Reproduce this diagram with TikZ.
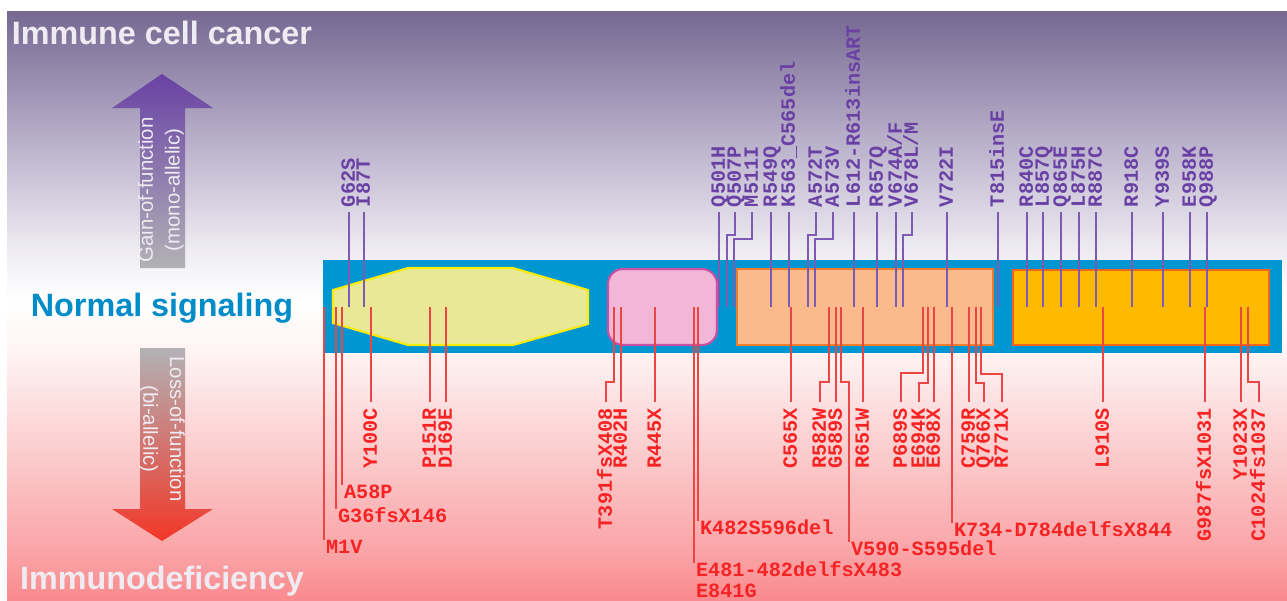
\documentclass[tikz,border=0pt]{standalone}
\usepackage{fontspec}
\setmainfont{Liberation Sans}
\setmonofont{Liberation Mono}
\usetikzlibrary{positioning}

\definecolor{bgtop}{RGB}{118,104,146}
\definecolor{bgA}{RGB}{190,181,206}
\definecolor{bgB}{RGB}{238,236,242}
\definecolor{bgC}{RGB}{255,244,244}
\definecolor{bgD}{RGB}{252,205,206}
\definecolor{bgE}{RGB}{250,165,168}
\definecolor{bgbot}{RGB}{250,138,142}
\definecolor{titlec}{RGB}{238,236,242}
\definecolor{barblue}{RGB}{0,150,210}
\definecolor{normalc}{RGB}{0,140,200}
\definecolor{gofc}{RGB}{105,65,165}
\definecolor{gofl}{RGB}{125,90,180}
\definecolor{lofc}{RGB}{245,35,35}
\definecolor{lofl}{RGB}{235,70,70}
\definecolor{arrgrey}{RGB}{178,178,182}
\definecolor{arrpurple}{RGB}{105,65,165}
\definecolor{arrred}{RGB}{242,55,40}
\definecolor{yelfill}{RGB}{233,232,150}
\definecolor{yeldraw}{RGB}{250,235,10}
\definecolor{pinkfill}{RGB}{242,182,214}
\definecolor{pinkdraw}{RGB}{200,80,165}
\definecolor{salfill}{RGB}{250,186,140}
\definecolor{saldraw}{RGB}{240,125,45}
\definecolor{goldfill}{RGB}{255,186,0}
\definecolor{golddraw}{RGB}{240,100,30}

\pgfdeclareverticalshading{bgshade}{100bp}{color(0bp)=(bgbot); color(25bp)=(bgbot);
  color(29.2bp)=(bgE); color(37.7bp)=(bgD); color(46.2bp)=(bgC); color(50.5bp)=(white);
  color(54.7bp)=(bgB); color(63.2bp)=(bgA); color(75bp)=(bgtop); color(100bp)=(bgtop)}

\begin{document}
\begin{tikzpicture}[x=0.02cm, y=-0.02cm,
    mut/.style={font=\ttfamily\bfseries\fontsize{11.5}{12}\selectfont,
                inner sep=0pt, text height=6.7pt, text depth=0pt},
    gof/.style={mut, text=gofc, rotate=90, anchor=west, outer sep=2.8pt},
    lof/.style={mut, text=lofc, rotate=90, anchor=east, outer sep=3.4pt},
    lofh/.style={mut, text=lofc, anchor=north west, inner sep=1pt},
    gofline/.style={draw=gofl, line width=0.85pt},
    lofline/.style={draw=lofl, line width=0.85pt},
    big/.style={font=\bfseries\fontsize{18.4}{20}\selectfont},
    arrtext/.style={font=\fontsize{11.6}{15.3}\selectfont, text=titlec, align=center},
    dom/.style={line width=1.2pt}]
  \useasboundingbox[fill=white] (0,0) rectangle (1287,600);
  \shade[shading=bgshade] (7,11) rectangle (1287,600);

  \node[big, text=titlec] (cancer) at (162,33) {Immune cell cancer};
  \node[big, text=normalc] (normal) at (162,308) {Normal signaling};
  \node[big, text=titlec] (immdef) at (162,581) {Immunodeficiency};

  \shade[top color=arrpurple, bottom color=arrgrey] (140,268) -- (140,108) -- (112,108) -- (162,74)
    -- (213,108) -- (185,108) -- (185,268) -- cycle;
  \shade[top color=arrgrey, bottom color=arrred] (140,348) -- (185,348) -- (185,509) -- (213,509)
    -- (162,541) -- (112,509) -- (140,509) -- cycle;
  \node[arrtext, rotate=90] (gain) at (161,190) {Gain-of-function\\(mono-allelic)};
  \node[arrtext, rotate=-90] (loss) at (162,429) {Loss-of-function\\(bi-allelic)};

  \fill[barblue] (323,260) rectangle (1282,353);
  \draw[dom, draw=yeldraw, fill=yelfill] (333,290) -- (408,268) -- (513,268) -- (588,290)
    -- (588,324) -- (513,345) -- (408,345) -- (333,323) -- cycle;
  \draw[dom, draw=pinkdraw, fill=pinkfill, rounded corners=0.3cm] (608,269) rectangle (717,345);
  \draw[dom, draw=saldraw, fill=salfill] (737,269) rectangle (993,345);
  \draw[dom, draw=golddraw, fill=goldfill] (1013,270) rectangle (1269,345);

  \foreach \nm/\xa/\xb/\yj/\lab in {g62s/349/349/235/G62S, i87t/364/364/235/I87T,
      q501h/719/719/235/Q501H, q507p/735/727/235/Q507P, m511i/752/734/239/M511I,
      r549q/771/771/235/R549Q, k563/789/789/235/K563\_C565del, a572t/816/808/235/A572T,
      a573v/833/815/239/A573V, l612/854/854/235/L612-R613insART, r657q/877/877/235/R657Q,
      v674/896/896/235/{V674A/F}, v678/912/903/235/{V678L/M}, v722i/947/947/235/V722I,
      t815/998/998/235/T815insE, r840c/1027/1027/235/R840C, l857q/1043/1043/235/L857Q,
      q865e/1061/1061/235/Q865E, l875h/1079/1079/235/L875H, r887c/1096/1096/235/R887C,
      r918c/1132/1132/235/R918C, y939s/1163/1163/235/Y939S, e958k/1190/1190/235/E958K,
      q988p/1207/1207/235/Q988P}{
    \node[gof] (\nm) at (\xa,212) {\lab};
    \coordinate (\nm-b) at (\xb,307);
    \draw[gofline] (\nm.west) -- (\xa,\yj) -| (\nm-b);
  }

  \foreach \nm/\xa/\xb/\yj/\lab in {y100c/371/371/382/Y100C, p151r/430/430/382/P151R,
      d169e/446/446/382/D169E, t391/614/606/382/T391fsX408, r402h/621/621/382/R402H,
      r445x/655/655/382/R445X, c565x/791/791/382/C565X, r582w/829/820/382/R582W,
      g589s/836/836/382/G589S, r651w/863/863/382/R651W, p689s/923/901/373/P689S,
      e694k/928/919/383/E694K, e698x/934/934/382/E698X, c759r/969/969/382/C759R,
      q766x/976/984/383/Q766X, r771x/981/1002/374/R771X, l910s/1103/1103/382/L910S,
      g987/1205/1205/382/G987fsX1031, y1023x/1241/1241/382/Y1023X,
      c1024/1248/1259/382/C1024fs1037}{
    \coordinate (\nm-b) at (\xa,307);
    \node[lof] (\nm) at (\xb,402) {\lab};
    \draw[lofline] (\nm-b) -- (\xa,\yj) -| (\nm.east);
  }

  \foreach \nm/\xa/\xb/\yj/\ye/\lab in {m1v/324/324/382/540/M1V, g36/336/336/382/509/G36fsX146,
      a58p/342/342/382/485/A58P, e481/694/694/382/563/E481-482delfsX483,
      k482/698/698/382/521/K482S596del, v590/841/849/382/542/V590-S595del,
      k734/952/952/382/523/K734-D784delfsX844}{
    \coordinate (\nm-b) at (\xa,307);
    \node[lofh] (\nm) at (\xb,\ye) {\lab};
    \draw[lofline] (\nm-b) -- (\xa,\yj) -| (\nm.north west);
  }
  \node[lofh, below=0.09cm of e481.south west, anchor=north west] (e841g) {E841G};
\end{tikzpicture}
\end{document}
